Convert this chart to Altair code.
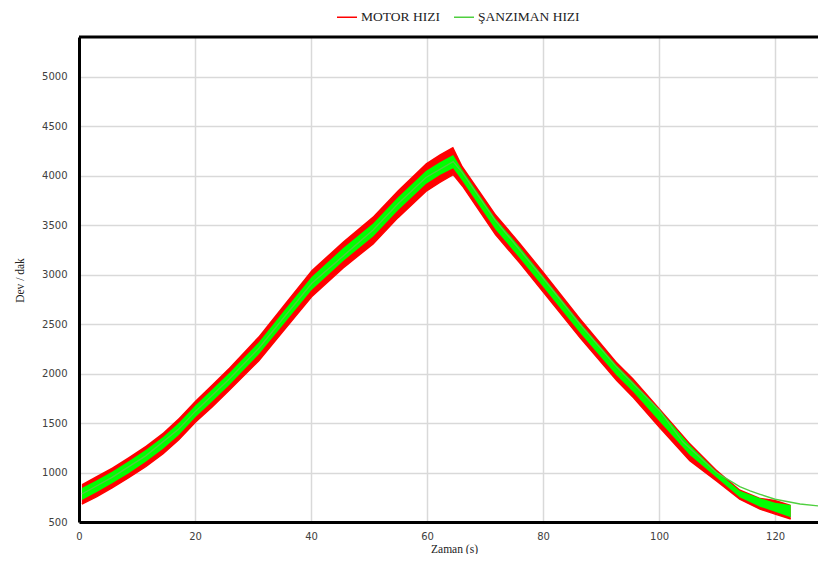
import altair as alt
import pandas as pd

# ---- data ----
SERIES = ["MOTOR HIZI", "ŞANZIMAN HIZI"]
X_TICKS = [0, 20, 40, 60, 80, 100, 120]
Y_TICKS = [500, 1000, 1500, 2000, 2500, 3000, 3500, 4000, 4500, 5000]

# time points (s) where the noisy bands were read
T_BAND = [0.5, 3, 5.7, 8.5, 11.5, 14.5, 17.2, 20.1, 23, 25.9, 31.0, 35.5, 40.1, 45.5,
          50.7, 55.0, 59.8, 62.2, 64.5, 66.1, 71.8, 76, 80.0, 86.4, 92.7, 95.6, 100.1,
          105.3, 109.9, 113.9, 117.4, 120.0, 122.7]
# motor speed band (red): lower / upper envelope
MOTOR_LO = [680, 755, 845, 945, 1060, 1190, 1330, 1510, 1665, 1830, 2130, 2450, 2775, 3065,
            3310, 3575, 3840, 3930, 4010, 3895, 3405, 3115, 2825, 2360, 1930, 1755, 1455,
            1120, 915, 730, 630, 580, 530]
MOTOR_HI = [885, 965, 1050, 1155, 1270, 1405, 1550, 1730, 1895, 2060, 2380, 2710, 3045, 3335,
            3590, 3855, 4125, 4215, 4292, 4100, 3615, 3325, 3035, 2560, 2120, 1950, 1650,
            1300, 1030, 830, 745, 725, 675]
# gearbox speed band (green): lower / upper envelope
GEAR_LO = [722, 800, 891, 990, 1109, 1240, 1380, 1560, 1720, 1884, 2195, 2515, 2845, 3135,
           3385, 3650, 3915, 4005, 4074, 3945, 3455, 3165, 2878, 2410, 1980, 1810, 1515,
           1177, 950, 750, 655, 604, 547]
GEAR_HI = [843, 920, 1008, 1110, 1227, 1360, 1500, 1680, 1840, 2005, 2315, 2645, 2975, 3265,
           3515, 3780, 4045, 4135, 4208, 4055, 3565, 3275, 2982, 2510, 2080, 1910, 1632,
           1278, 1010, 815, 740, 695, 672]
# smooth gearbox curve (thin green line)
T_LINE = [0.5, 5.7, 11.5, 17.2, 20.1, 25.9, 31.0, 40.1, 50.7, 55.0, 59.8, 64.5, 66.1,
          71.8, 80.0, 86.4, 92.7, 100.1, 104.1, 109.9, 113.9, 115.7, 117.4, 120.0, 124.3, 128.6]
GEAR_LINE = [783, 950, 1168, 1440, 1620, 1945, 2255, 2910, 3450, 3715, 3981, 4141, 4030,
             3545, 2965, 2495, 2065, 1625, 1310, 1000, 857, 815, 780, 730, 682, 655]

W, H = 739, 485

motor = pd.DataFrame({"t": T_BAND, "lo": MOTOR_LO, "hi": MOTOR_HI})
gear = pd.DataFrame({"t": T_BAND, "lo": GEAR_LO, "hi": GEAR_HI})
lines = pd.concat([
    pd.DataFrame({"t": T_BAND, "lo": MOTOR_LO, "series": SERIES[0]}),
    pd.DataFrame({"t": T_LINE, "lo": GEAR_LINE, "series": SERIES[1]}),
], ignore_index=True)

xscale = alt.Scale(domain=[0, 127.4], nice=False, zero=False)
yscale = alt.Scale(domain=[500, 5400], nice=False, zero=False)

xaxis = alt.Axis(values=X_TICKS, format="d", title="Zaman (s)", grid=True,
                 gridColor="#d9d9d9", gridWidth=1.5, domainColor="black", domainWidth=3,
                 ticks=False, tickSize=0, labelPadding=9, labelFont="DejaVu Sans",
                 labelFontSize=10, labelColor="#404040", labelFlush=False,
                 labelOverlap=False, titleFont="Liberation Serif", titleFontSize=11.5,
                 titleFontWeight="normal", titleColor="#222222", titleX=375, titleY=27,
                 titleBaseline="middle", titleAlign="center")
yaxis = alt.Axis(values=Y_TICKS, format="d", title="Dev / dak", grid=True,
                 gridColor="#d9d9d9", gridWidth=1.5, domainColor="black", domainWidth=3,
                 ticks=False, tickSize=0, labelPadding=12, labelFont="DejaVu Sans",
                 labelFontSize=10, labelColor="#404040", labelFlush=False,
                 labelOverlap=False, titleFont="Liberation Serif", titleFontSize=11.5,
                 titleFontWeight="normal", titleColor="#222222", titleX=-59, titleY=243,
                 titleAngle=270, titleBaseline="middle", titleAlign="center")

X = alt.X("t:Q", scale=xscale, axis=xaxis)
Y = alt.Y("lo:Q", scale=yscale, axis=yaxis)

red_band = alt.Chart(motor).mark_area(color="#ff0000", clip=True, opacity=1).encode(
    x=X, y=Y, y2="hi:Q",
)
green_band = alt.Chart(gear).mark_area(color="#00ff00", clip=True, opacity=1).encode(
    x=X, y=Y, y2="hi:Q",
)
line_layer = alt.Chart(lines).mark_line(strokeWidth=1.4, clip=True).encode(
    x=X, y=Y,
    color=alt.Color("series:N", sort=SERIES,
                    scale=alt.Scale(domain=SERIES, range=["#ff0000", "#4fcf3f"]),
                    legend=alt.Legend(title=None, orient="none", legendX=257, legendY=-31,
                                      direction="horizontal", symbolType="stroke",
                                      symbolSize=400, symbolStrokeWidth=1.5,
                                      labelFont="Liberation Serif", labelFontSize=13.5,
                                      labelColor="#222222", labelOffset=3,
                                      columnPadding=11, padding=0)),
    order="t:Q",
)
top_border = alt.Chart(pd.DataFrame({"a": [0]})).mark_rule(color="black", strokeWidth=3).encode(
    x=alt.value(0), x2=alt.value(W), y=alt.value(0)
)

chart = alt.layer(red_band, green_band, line_layer, top_border).properties(
    width=W, height=H,
    padding={"left": 71, "top": 29, "right": 0, "bottom": 32},
    autosize=alt.AutoSizeParams(type="none"),
    background="white",
).configure_view(stroke=None)

chart.save("out.html", embed_options={"renderer": "svg", "actions": False})
